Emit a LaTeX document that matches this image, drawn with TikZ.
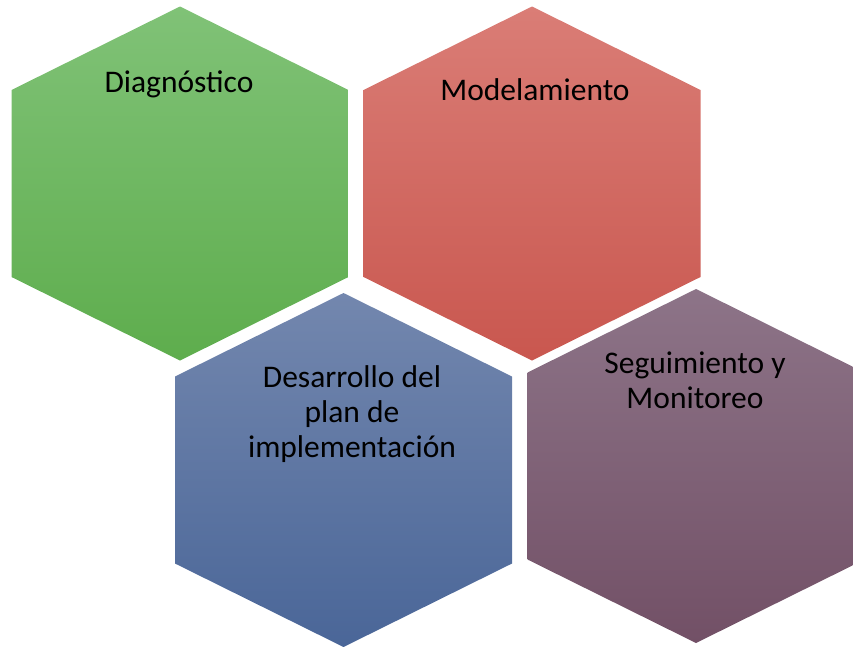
\documentclass[tikz,border=0pt]{standalone}
\usepackage{fontspec}
\setmainfont{Carlito}
\usepackage{tikz}
\usetikzlibrary{positioning}
\usepackage{xcolor}
\definecolor{diagtop}{HTML}{80C277}
\definecolor{diagbot}{HTML}{5EAD4D}
\definecolor{modeltop}{HTML}{DA7D76}
\definecolor{modelbot}{HTML}{C9574F}
\definecolor{desatop}{HTML}{7387AE}
\definecolor{desabot}{HTML}{4A6698}
\definecolor{seguitop}{HTML}{8D7488}
\definecolor{seguibot}{HTML}{725066}

\begin{document}
\begin{tikzpicture}[x=1pt, y=-1pt,
        label/.style={inner sep=0pt, align=center, anchor=base, font=\fontsize{31.5}{35}\selectfont}]
        \useasboundingbox (0,0) rectangle (853,646);
        \clip (0,0) rectangle (853,646);
        \begin{scope}[shift={(180,183.5)}]
            \shade[top color=diagtop, bottom color=diagbot] (0,-177)--(168.5,-93.5)--(168.5,93.5)--(0,177)--(-168.5,93.5)--(-168.5,-93.5)--cycle;
            \node[label] (diag) at (-1,-91.5) {Diagnóstico};
        \end{scope}
        \begin{scope}[shift={(532,183.5)}]
            \shade[top color=modeltop, bottom color=modelbot] (0,-177)--(168.5,-93.5)--(168.5,93.5)--(0,177)--(-168.5,93.5)--(-168.5,-93.5)--cycle;
            \node[label] (model) at (3,-83.5) {Modelamiento};
        \end{scope}
        \begin{scope}[shift={(343.5,470)}]
            \shade[top color=desatop, bottom color=desabot] (0,-177)--(168.5,-93.5)--(168.5,93.5)--(0,177)--(-168.5,93.5)--(-168.5,-93.5)--cycle;
            \node[label] (desa) at (8.5,-13) {Desarrollo del\\plan de\\implementación};
        \end{scope}
        \begin{scope}[shift={(696,466)}]
            \shade[top color=seguitop, bottom color=seguibot] (0,-177)--(168.5,-93.5)--(168.5,93.5)--(0,177)--(-168.5,93.5)--(-168.5,-93.5)--cycle;
            \node[label] (segui) at (-1,-58) {Seguimiento y\\Monitoreo};
        \end{scope}
    \end{tikzpicture}
\end{document}
